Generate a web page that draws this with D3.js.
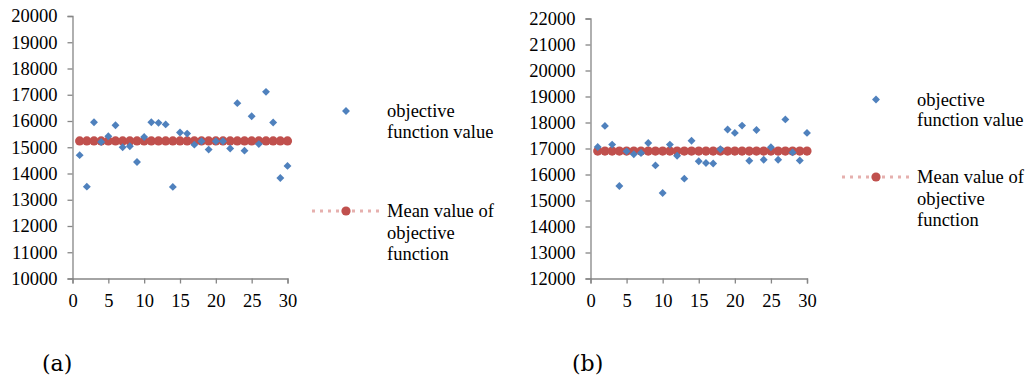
<!DOCTYPE html>
<html><head><meta charset="utf-8">
<script src="https://cdn.jsdelivr.net/npm/d3@7"></script>
<style>
body{margin:0;background:#fff;}
svg{display:block;}
svg text{font-family:"Liberation Serif","Times New Roman",serif;}
svg text.lab{font-family:"DejaVu Serif",serif;}
</style></head>
<body><svg id="c" width="1025" height="380"></svg>
<script>
const runs = d3.range(1, 31);
const objA = [14700,13500,15950,15200,15420,15840,15000,15040,14440,15390,
              15950,15930,15870,13490,15560,15520,15100,15230,14910,15230,
              15230,14950,16680,14870,16180,15120,17110,15940,13830,14290];
const meanA = 15240;
const objB = [17060,17870,17150,15560,16890,16780,16830,17210,16350,15290,
              17150,16720,15840,17300,16510,16440,16420,16970,17730,17600,
              17880,16530,17710,16570,17050,16570,18120,16850,16540,17600];
const meanB = 16900;
const xTicks = [0,5,10,15,20,25,30];
const yTicksA = d3.range(10000, 20001, 1000);
const yTicksB = d3.range(12000, 22001, 1000);
const legendObj = ["objective", "function value"];
const legendMean = ["Mean value of", "objective", "function"];
const panelLabels = ["(a)", "(b)"];

const svg = d3.select("#c");
const blue = "#4F81BD", red = "#C0504D", pink = "#E6B0AE", axisCol = "#868686";

function panel(cfg){
  const g = svg.append("g");
  const x = d3.scaleLinear().domain([0,30]).range([cfg.x0, cfg.x1]);
  const y = d3.scaleLinear().domain(cfg.ydom).range([cfg.y1, cfg.y0]);
  const ya = g.append("g").attr("transform",`translate(${cfg.x0},0)`)
    .call(d3.axisLeft(y).tickValues(cfg.yticks).tickSize(5).tickPadding(10).tickFormat(d3.format("d")));
  const xa = g.append("g").attr("transform",`translate(0,${cfg.y1})`)
    .call(d3.axisBottom(x).tickValues(xTicks).tickSize(5).tickPadding(10).tickFormat(d3.format("d")));
  [ya, xa].forEach(a=>{
    a.attr("font-family", null).attr("font-size", null);
    a.selectAll("path,line").attr("stroke", axisCol).attr("stroke-width",1.3);
    a.selectAll("text").style("font-size","18.5px").attr("fill","#000");
  });
  // mean series
  g.append("path").datum(runs)
    .attr("d", d3.line().x(d=>x(d)).y(()=>y(cfg.mean)))
    .attr("stroke", pink).attr("stroke-width",2.5).attr("fill","none");
  g.selectAll(".m").data(runs).join("circle")
    .attr("cx", d=>x(d)).attr("cy", y(cfg.mean)).attr("r",4.6).attr("fill", red);
  // objective series
  const diamond = d3.symbol().type(d3.symbolDiamond2).size(40);
  g.selectAll(".o").data(cfg.obj).join("path")
    .attr("d", diamond)
    .attr("transform",(d,i)=>`translate(${x(runs[i])},${y(d)})`)
    .attr("fill", blue);
  // legend
  const L = cfg.leg;
  g.append("path").attr("d", diamond)
    .attr("transform",`translate(${L.mx},${L.y1})`).attr("fill", blue);
  legendObj.forEach((t,i)=>g.append("text").attr("x",L.tx).attr("y",L.y1 + i*20.5)
    .attr("dy","0.35em").style("font-size","18.5px").text(t));
  g.append("line").attr("x1",L.lx0).attr("x2",L.lx1).attr("y1",L.y2).attr("y2",L.y2)
    .attr("stroke", pink).attr("stroke-width",3).attr("stroke-dasharray","3,5");
  g.append("circle").attr("cx",L.mx).attr("cy",L.y2).attr("r",4.6).attr("fill",red);
  legendMean.forEach((t,i)=>g.append("text").attr("x",L.tx).attr("y",L.y2 + i*21.5)
    .attr("dy","0.35em").style("font-size","18.5px").text(t));
  svg.append("text").attr("class","lab").attr("x",cfg.lab[0]).attr("y",cfg.lab[1])
    .style("font-size","22px").text(cfg.label);
}

panel({x0:72.5, x1:287.5, y0:16, y1:278.5, ydom:[10000,20000], yticks:yTicksA,
  obj:objA, mean:meanA, label:panelLabels[0], lab:[42,371],
  leg:{mx:346, tx:387, y1:111, y2:211, lx0:312, lx1:379}});
panel({x0:590.5, x1:807, y0:18.5, y1:278.5, ydom:[12000,22000], yticks:yTicksB,
  obj:objB, mean:meanB, label:panelLabels[1], lab:[572,371],
  leg:{mx:876, tx:917, y1:99.5, y2:177, lx0:842, lx1:911}});
</script></body></html>
